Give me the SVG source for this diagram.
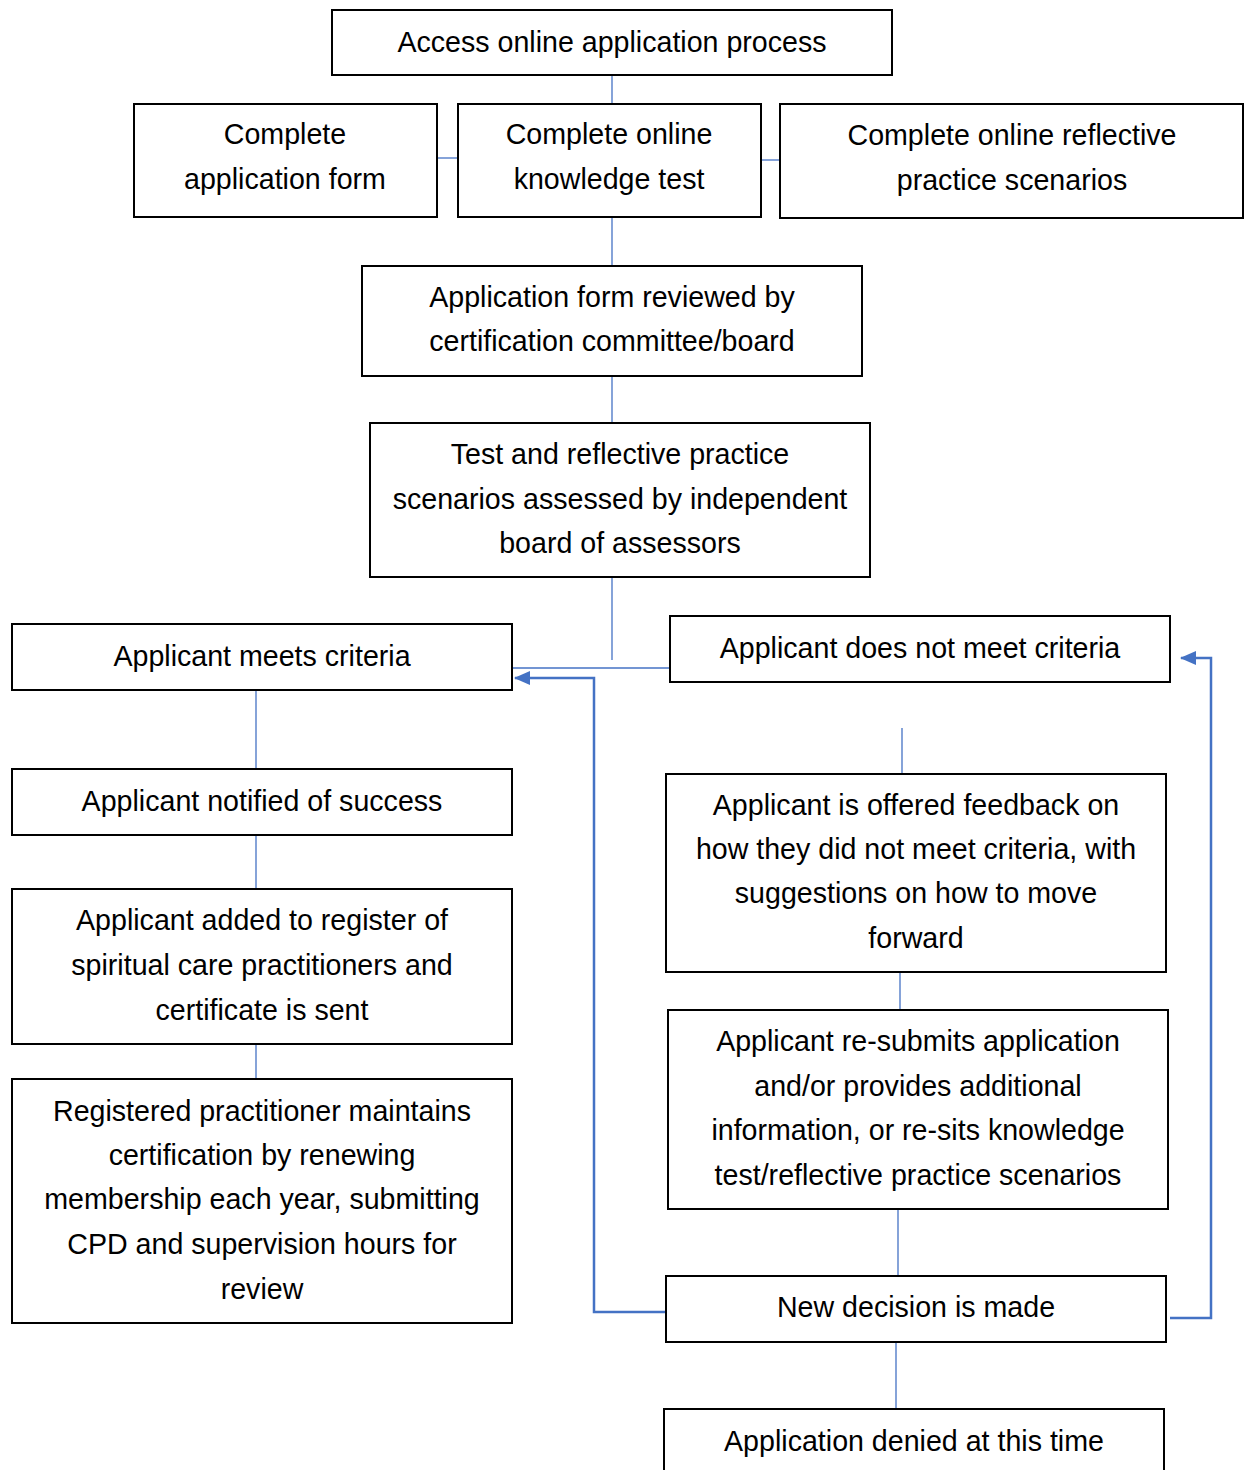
<svg xmlns="http://www.w3.org/2000/svg" width="1244" height="1470" viewBox="0 0 1244 1470">
<style>
.box{fill:#fff;stroke:#000;stroke-width:2}
.t{font-family:"Liberation Sans",Arial,sans-serif;font-size:28.6px;fill:#000;text-anchor:middle}
.thin{fill:none;stroke:#4472C4;stroke-width:1.3}
.thick{fill:none;stroke:#4472C4;stroke-width:2.5}
</style>
<defs>
<marker id="ah" markerWidth="16" markerHeight="14" refX="15" refY="7" orient="auto" markerUnits="userSpaceOnUse">
<path d="M0,0 L16,7 L0,14 Z" fill="#4472C4"/>
</marker>
</defs>
<rect width="1244" height="1470" fill="#fff"/>
<g id="connectors">
<line class="thin" x1="612" y1="75" x2="612" y2="104"/>
<line class="thin" x1="437" y1="158" x2="458" y2="158"/>
<line class="thin" x1="761" y1="160" x2="780" y2="160"/>
<line class="thin" x1="612" y1="217" x2="612" y2="266"/>
<line class="thin" x1="612" y1="376" x2="612" y2="423"/>
<line class="thin" x1="612" y1="577" x2="612" y2="660"/>
<line class="thin" x1="512" y1="668" x2="670" y2="668"/>
<line class="thin" x1="256" y1="690" x2="256" y2="769"/>
<line class="thin" x1="256" y1="835" x2="256" y2="889"/>
<line class="thin" x1="256" y1="1044" x2="256" y2="1079"/>
<line class="thin" x1="902" y1="728" x2="902" y2="774"/>
<line class="thin" x1="900" y1="972" x2="900" y2="1010"/>
<line class="thin" x1="898" y1="1209" x2="898" y2="1276"/>
<line class="thin" x1="896" y1="1342" x2="896" y2="1409"/>
<path class="thick" d="M666,1312 H594 V678 H515" marker-end="url(#ah)"/>
<path class="thick" d="M1170,1318 H1211 V658 H1181" marker-end="url(#ah)"/>
</g>
<g id="n1"><rect class="box" x="332" y="10" width="560" height="65"/><text class="t" x="612" y="52">Access online application process</text></g>
<g id="n2"><rect class="box" x="134" y="104" width="303" height="113"/><text class="t" x="285" y="144">Complete</text><text class="t" x="285" y="189">application form</text></g>
<g id="n3"><rect class="box" x="458" y="104" width="303" height="113"/><text class="t" x="609" y="144">Complete online</text><text class="t" x="609" y="189">knowledge test</text></g>
<g id="n4"><rect class="box" x="780" y="104" width="463" height="114"/><text class="t" x="1012" y="145">Complete online reflective</text><text class="t" x="1012" y="190">practice scenarios</text></g>
<g id="n5"><rect class="box" x="362" y="266" width="500" height="110"/><text class="t" x="612" y="307">Application form reviewed by</text><text class="t" x="612" y="351">certification committee/board</text></g>
<g id="n6"><rect class="box" x="370" y="423" width="500" height="154"/><text class="t" x="620" y="464">Test and reflective practice</text><text class="t" x="620" y="509">scenarios assessed by independent</text><text class="t" x="620" y="553">board of assessors</text></g>
<g id="n7"><rect class="box" x="12" y="624" width="500" height="66"/><text class="t" x="262" y="666">Applicant meets criteria</text></g>
<g id="n8"><rect class="box" x="670" y="616" width="500" height="66"/><text class="t" x="920" y="658">Applicant does not meet criteria</text></g>
<g id="n9"><rect class="box" x="12" y="769" width="500" height="66"/><text class="t" x="262" y="811">Applicant notified of success</text></g>
<g id="n10"><rect class="box" x="12" y="889" width="500" height="155"/><text class="t" x="262" y="930">Applicant added to register of</text><text class="t" x="262" y="975">spiritual care practitioners and</text><text class="t" x="262" y="1020">certificate is sent</text></g>
<g id="n11"><rect class="box" x="12" y="1079" width="500" height="244"/><text class="t" x="262" y="1121">Registered practitioner maintains</text><text class="t" x="262" y="1165">certification by renewing</text><text class="t" x="262" y="1209">membership each year, submitting</text><text class="t" x="262" y="1254">CPD and supervision hours for</text><text class="t" x="262" y="1299">review</text></g>
<g id="n12"><rect class="box" x="666" y="774" width="500" height="198"/><text class="t" x="916" y="815">Applicant is offered feedback on</text><text class="t" x="916" y="859">how they did not meet criteria, with</text><text class="t" x="916" y="903">suggestions on how to move</text><text class="t" x="916" y="948">forward</text></g>
<g id="n13"><rect class="box" x="668" y="1010" width="500" height="199"/><text class="t" x="918" y="1051">Applicant re-submits application</text><text class="t" x="918" y="1096">and/or provides additional</text><text class="t" x="918" y="1140">information, or re-sits knowledge</text><text class="t" x="918" y="1185">test/reflective practice scenarios</text></g>
<g id="n14"><rect class="box" x="666" y="1276" width="500" height="66"/><text class="t" x="916" y="1317">New decision is made</text></g>
<g id="n15"><rect class="box" x="664" y="1409" width="500" height="80"/><text class="t" x="914" y="1451">Application denied at this time</text></g>
</svg>
